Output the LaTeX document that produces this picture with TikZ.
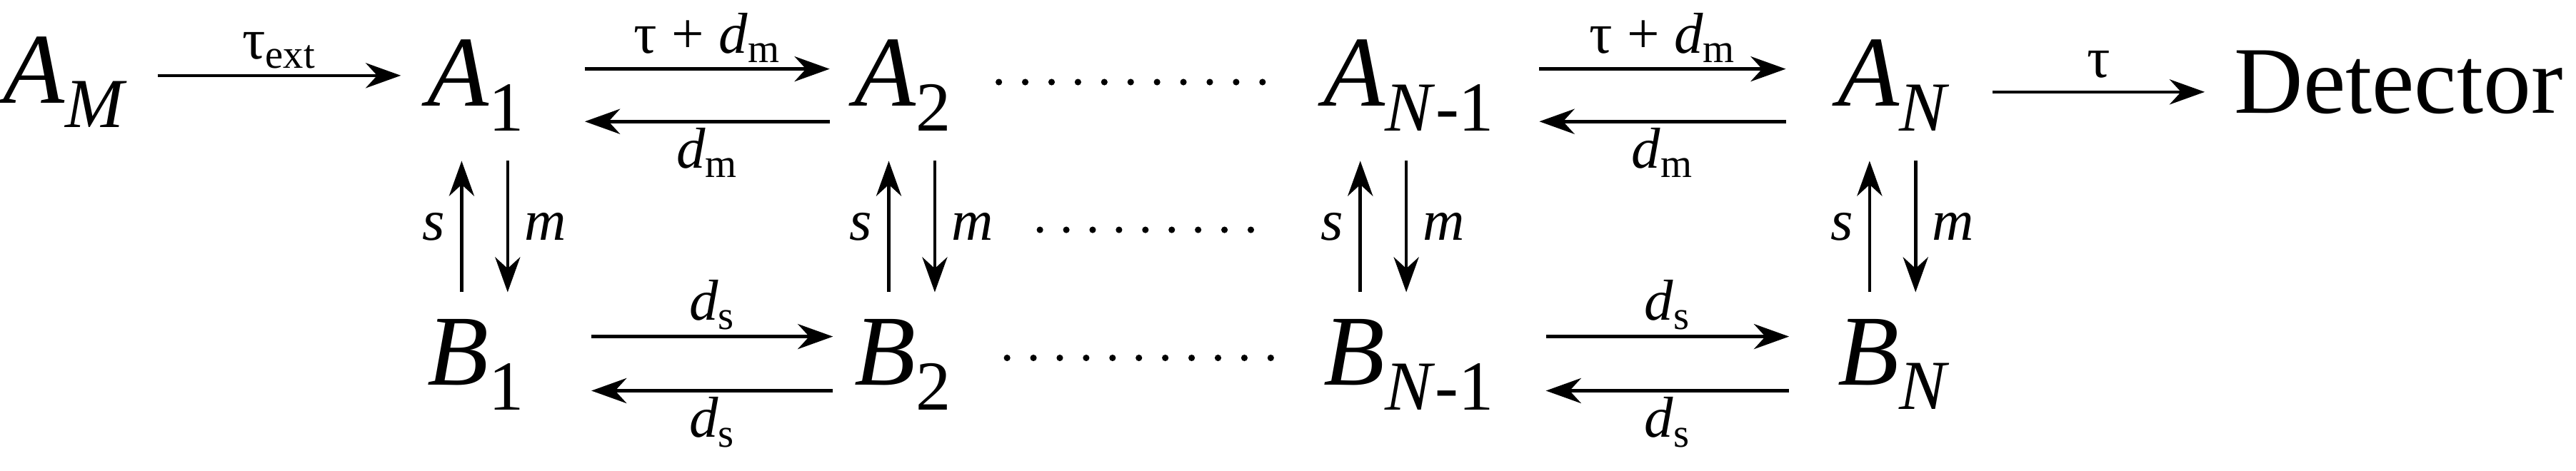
\documentclass[tikz,border=0pt]{standalone}
\usepackage{fontspec}
\setmainfont{Liberation Serif}
\usetikzlibrary{arrows.meta}
\newcommand{\vA}[1]{\textit{A}\textsubscript{#1}}
\newcommand{\vB}[1]{\textit{B}\textsubscript{#1}}
\tikzset{big/.style={font=\fontsize{40}{44}\selectfont,inner sep=0pt},
 lab/.style={font=\fontsize{23}{25}\selectfont,inner sep=2pt},
 arr/.style={-{Stealth[length=14pt,width=10pt]},line width=1.3pt},
 dotline/.style={line width=2.6pt,dash pattern=on 0pt off 10.5pt,line cap=round}}
\begin{document}
\begin{tikzpicture}[x=0.023cm,y=-0.023cm]
\useasboundingbox (0,0) rectangle (1568,286.5);
\node[big] (AM) at (40,50) {\vA{\textit{M}}};
\node[big] (A1) at (290,52) {\vA{1}};
\node[big] (A2) at (550,52) {\vA{2}};
\node[big] (AN1) at (858,52) {\textit{A}\textsubscript{\textit{N}-1}};
\node[big] (AN) at (1153,52) {\vA{\textit{N}}};
\node[big,font=\fontsize{38}{42}\selectfont] (D) at (1460,50) {Detector};
\node[big] (B1) at (290,222) {\vB{1}};
\node[big] (B2) at (550,222) {\vB{2}};
\node[big] (BN1) at (858,222) {\textit{B}\textsubscript{\textit{N}-1}};
\node[big] (BN) at (1153,222) {\vB{\textit{N}}};
\draw[arr] (96,46) -- node[lab,above] {τ\textsubscript{ext}} (244,46);
\draw[arr] (1213,56) -- node[lab,above=3pt] {τ} (1342,56);
\foreach \xa/\xb in {356/505, 937/1087}{
 \draw[arr] (\xa,42) -- node[lab,above] {τ + \textit{d}\textsubscript{m}} (\xb,42);
 \draw[arr] (\xb,74) -- node[lab,below] {\textit{d}\textsubscript{m}} (\xa,74);
 \draw[arr] (\xa+4,205) -- node[lab,above] {\textit{d}\textsubscript{s}} (\xb+2,205);
 \draw[arr] (\xb+2,238) -- node[lab,below] {\textit{d}\textsubscript{s}} (\xa+4,238);
}
\foreach \x in {281,541,828,1138}{
 \draw[arr] (\x,178) -- node[lab,left=4pt] {\textit{s}} (\x,98);
 \draw[arr] (\x+28,98) -- node[lab,right=4pt] {\textit{m}} (\x+28,178);
}
\draw[dotline] (608,50) -- (775,50);
\draw[dotline] (633,140) -- (762,140);
\draw[dotline] (613,218) -- (780,218);
\end{tikzpicture}
\end{document}
